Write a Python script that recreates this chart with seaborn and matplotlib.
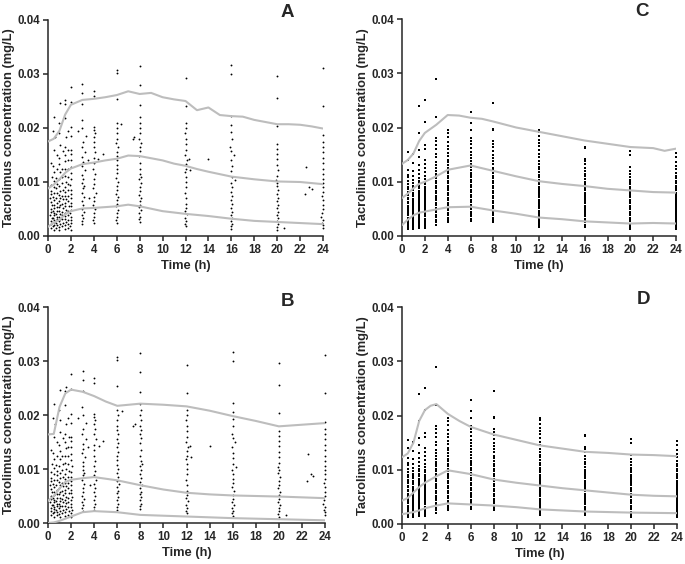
import numpy as np
import pandas as pd
import matplotlib
matplotlib.use("Agg")
import matplotlib.pyplot as plt
import seaborn as sns
from matplotlib.ticker import FormatStrFormatter, MultipleLocator

# ---------------- observed data, panels A and B (time h, conc µg/L) ----------------
ab_025 = [(0.22,1.5),(0.30,2.2),(0.25,2.8),(0.33,3.3),(0.20,3.8),(0.28,4.4),(0.24,5.0),(0.32,5.7),(0.26,6.3),(0.21,7.0),(0.30,7.7),(0.27,8.4),(0.23,9.5),(0.31,11.0),(0.25,13.5)]
ab_05 = [(0.50,1.2),(0.46,1.8),(0.55,2.1),(0.48,2.6),(0.52,3.0),(0.44,3.4),(0.56,3.9),(0.50,4.3),(0.47,4.7),(0.53,5.2),(0.49,5.8),(0.55,6.6),(0.45,7.3),(0.51,8.0),(0.48,9.0),(0.54,10.2),(0.50,11.8),(0.46,13.0),(0.52,16.0),(0.58,18.3),(0.47,19.5),(0.52,22.1)]
ab_075 = [(0.74,1.4),(0.78,2.0),(0.72,2.5),(0.76,3.1),(0.80,3.6),(0.73,4.1),(0.77,4.6),(0.75,5.4),(0.79,6.2),(0.71,7.1),(0.76,7.9),(0.74,8.8),(0.78,9.7),(0.72,10.8),(0.77,12.5),(0.75,15.0)]
ab_1 = [(1.00,1.2),(0.96,1.7),(1.04,2.2),(0.98,2.7),(1.02,3.2),(0.95,3.6),(1.05,4.1),(1.00,4.7),(0.97,5.3),(1.03,5.8),(0.99,6.4),(1.01,7.0),(0.96,7.6),(1.04,8.3),(1.00,9.3),(0.98,10.5),(1.02,11.8),(1.00,13.3),(0.97,14.5),(1.03,16.8),(1.00,19.0),(0.95,21.0),(1.02,24.6)]
ab_125 = [(1.24,1.8),(1.28,2.4),(1.22,3.1),(1.26,3.9),(1.25,4.5),(1.30,5.2),(1.23,6.0),(1.27,6.8),(1.25,7.5),(1.29,8.5),(1.24,9.8),(1.26,11.0),(1.22,12.5),(1.27,15.7)]
ab_15 = [(1.50,1.3),(1.46,2.0),(1.54,2.6),(1.48,3.1),(1.52,3.7),(1.45,4.3),(1.55,4.9),(1.50,5.5),(1.47,6.2),(1.53,6.8),(1.49,7.4),(1.51,8.2),(1.46,9.0),(1.54,10.0),(1.50,11.2),(1.48,12.5),(1.52,13.8),(1.50,15.0),(1.47,16.5),(1.53,18.3),(1.50,21.8),(1.48,24.5),(1.52,25.2)]
ab_175 = [(1.74,1.5),(1.78,2.2),(1.72,3.0),(1.76,3.8),(1.75,4.6),(1.79,5.5),(1.73,6.4),(1.77,7.4),(1.75,8.5),(1.78,9.7),(1.72,11.0),(1.76,12.5),(1.74,14.0),(1.78,16.0),(1.75,19.5)]
ab_2 = [(2.00,1.1),(1.96,1.8),(2.04,2.4),(1.98,3.0),(2.02,3.6),(1.95,4.2),(2.05,4.8),(2.00,5.5),(1.97,6.2),(2.03,7.0),(1.99,7.8),(2.01,8.6),(1.96,9.5),(2.04,10.5),(2.00,11.6),(1.98,12.8),(2.02,14.0),(2.00,15.2),(1.97,16.0),(2.03,18.5),(2.00,20.2),(1.98,24.8),(2.02,27.6)]
ab_3 = [(3.00,2.3),(2.96,2.8),(3.05,3.3),(2.98,3.8),(3.10,4.4),(2.95,5.0),(3.04,5.7),(3.00,6.4),(3.12,7.2),(2.97,8.0),(3.03,8.8),(3.15,9.3),(2.99,9.8),(3.06,10.5),(3.00,11.3),(3.20,12.2),(2.96,13.0),(3.04,13.7),(3.00,14.6),(3.25,15.5),(2.98,16.5),(3.02,17.5),(3.30,18.5),(3.00,20.0),(2.97,21.5),(3.01,24.5),(3.00,26.5),(3.00,28.2),(2.60,19.5),(3.45,14.0),(3.60,7.0)]
ab_4 = [(4.00,2.5),(3.96,3.0),(4.05,3.6),(3.98,4.3),(4.10,5.0),(3.95,5.8),(4.04,6.5),(4.00,7.2),(4.15,8.0),(3.97,8.8),(4.03,9.6),(4.00,10.5),(4.08,11.5),(3.96,12.5),(4.02,13.5),(4.00,14.5),(4.12,15.5),(3.98,16.5),(4.04,17.5),(4.00,18.3),(4.06,19.0),(3.99,19.7),(4.02,20.2),(4.00,26.0),(4.00,26.8),(4.80,15.2),(4.40,14.2)]
ab_6 = [(6.00,2.5),(5.96,3.0),(6.05,3.6),(5.98,4.2),(6.10,4.8),(5.95,5.5),(6.04,6.0),(6.00,6.6),(6.12,7.2),(5.97,7.8),(6.03,8.5),(6.00,9.2),(6.08,10.0),(5.96,10.8),(6.02,11.6),(6.00,12.4),(6.06,13.2),(5.98,14.0),(6.04,14.8),(6.00,15.6),(6.10,16.4),(5.97,17.2),(6.02,18.0),(6.00,19.0),(6.03,20.0),(5.99,21.0),(6.00,25.3),(6.00,30.2),(6.00,30.7),(6.40,20.7)]
ab_8 = [(8.00,2.6),(7.96,3.1),(8.05,3.6),(7.98,4.2),(8.10,4.8),(7.95,5.3),(8.04,5.8),(8.00,6.4),(8.12,7.0),(7.97,7.6),(8.03,8.3),(8.00,9.0),(8.08,9.8),(7.96,10.6),(8.15,11.0),(8.02,11.5),(8.00,12.5),(8.06,13.5),(7.98,14.8),(8.04,15.8),(8.00,16.5),(8.10,17.2),(7.97,18.0),(8.02,19.0),(8.00,20.0),(8.03,21.0),(7.99,22.0),(8.00,24.2),(8.00,27.9),(8.00,31.4),(7.50,18.3),(7.40,18.0)]
ab_12 = [(12.00,1.8),(11.96,2.3),(12.05,2.8),(11.98,3.4),(12.10,4.0),(11.95,4.6),(12.04,5.2),(12.00,6.0),(12.08,7.0),(11.97,8.0),(12.03,9.0),(12.00,10.0),(12.06,11.0),(11.96,11.8),(12.02,12.5),(12.00,13.3),(12.10,14.0),(11.98,15.0),(12.04,16.0),(12.00,17.0),(12.02,18.0),(11.99,19.0),(12.00,20.0),(12.03,21.0),(12.00,24.0),(12.00,29.3),(12.40,12.2),(12.30,14.2),(14.00,14.3)]
ab_16 = [(16.00,1.3),(15.96,1.8),(16.05,2.3),(15.98,2.8),(16.10,3.3),(15.95,3.8),(16.04,4.5),(16.00,5.2),(16.08,6.0),(15.97,6.7),(16.03,7.4),(16.00,8.2),(16.06,9.0),(15.96,9.8),(16.30,10.3),(16.02,11.0),(16.00,12.0),(16.04,13.0),(15.98,14.0),(16.20,15.0),(16.00,15.8),(15.90,16.5),(16.02,18.0),(16.00,19.2),(16.00,20.5),(16.00,22.2),(16.00,30.0),(16.00,31.6)]
ab_20 = [(20.00,1.2),(19.96,1.7),(20.05,2.2),(19.98,2.7),(20.10,3.3),(19.95,3.8),(20.04,4.5),(20.00,5.2),(20.08,5.8),(19.97,6.4),(20.03,7.0),(20.00,7.7),(20.06,8.5),(19.96,9.2),(20.02,9.8),(19.90,10.4),(20.00,11.2),(20.04,12.2),(19.98,13.2),(20.00,14.2),(20.02,15.2),(20.00,16.2),(20.00,17.0),(20.00,20.4),(20.00,25.5),(20.00,29.7),(20.60,1.4)]
ab_22 = [(22.50,12.7),(22.40,7.8),(22.80,9.0),(23.00,8.7)]
ab_24 = [(24.00,1.5),(23.96,2.0),(23.90,2.5),(23.98,3.0),(23.85,3.5),(23.95,4.2),(24.00,5.0),(23.97,5.8),(24.00,6.6),(23.92,7.4),(24.00,8.2),(23.96,9.0),(24.00,9.8),(23.98,10.6),(24.00,11.4),(24.00,12.5),(23.97,13.5),(24.00,14.5),(24.00,15.5),(23.98,16.5),(24.00,17.5),(24.00,18.7),(24.00,24.0),(24.00,31.1)]

# ---------------- observed data, panels C and D (conc µg/L at nominal time) ----------------
cd_times = [0.5, 1, 1.5, 2, 3, 4, 6, 8, 12, 16, 20, 24]
cd_05 = [1.2,1.6,1.9,2.3,2.5,2.9,3.2,3.4,3.8,4.1,4.3,4.7,5.0,5.4,5.6,6.1,6.3,6.8,7.0,7.5,7.9,8.2,8.7,9.0,9.6,10.1,10.8,11.3,12.2,14.0,15.5]
cd_1 = [1.3,1.7,2.0,2.2,2.6,2.8,3.1,3.5,3.7,4.0,4.4,4.6,4.9,5.3,5.5,5.9,6.2,6.6,6.9,7.3,7.7,8.0,8.4,8.9,9.3,9.8,10.4,11.0,12.0,13.5,15.2]
cd_15 = [1.5,1.8,2.2,2.5,2.8,3.0,3.4,3.7,4.1,4.4,4.8,5.1,5.5,5.8,6.1,6.5,6.9,7.2,7.6,8.0,8.3,8.8,9.2,9.7,10.1,10.7,11.4,12.1,13.0,14.5,15.8,19.0,24.0]
cd_2 = [1.5,1.9,2.2,2.6,2.9,3.2,3.6,3.9,4.3,4.6,5.0,5.3,5.7,6.0,6.4,6.8,7.1,7.5,7.9,8.3,8.7,9.1,9.6,10.0,10.5,11.1,11.8,12.6,13.3,14.0,16.0,16.8,21.0,25.0]
cd_3 = [2.0,2.6,3.0,3.5,3.9,4.4,4.8,5.2,5.7,6.1,6.6,7.0,7.4,7.9,8.3,8.8,9.2,9.7,10.1,10.6,11.0,11.5,12.0,12.5,13.1,13.7,14.5,15.2,16.0,16.8,17.5,18.0,22.0,29.0]
cd_4 = [2.5,3.0,3.4,3.9,4.3,4.8,5.2,5.7,6.1,6.6,7.0,7.5,7.9,8.4,8.8,9.3,9.7,10.2,10.6,11.1,11.6,12.0,12.5,13.0,13.6,14.1,14.7,15.3,16.0,16.6,17.3,18.2,19.0,19.5]
cd_6 = [2.7,3.1,3.6,4.0,4.5,4.9,5.4,5.8,6.3,6.7,7.2,7.6,8.1,8.5,9.0,9.4,9.9,10.3,10.8,11.2,11.7,12.2,12.7,13.2,13.8,14.3,14.9,15.5,16.2,16.9,17.6,18.0,19.5,20.8,22.9]
cd_8 = [2.5,2.9,3.4,3.8,4.3,4.7,5.2,5.6,6.1,6.5,7.0,7.4,7.9,8.3,8.8,9.2,9.7,10.1,10.6,11.1,11.6,12.1,12.6,13.2,13.8,14.4,15.0,15.7,16.4,17.0,17.5,19.6,19.8,24.5]
cd_12 = [1.7,2.0,2.4,2.8,3.1,3.5,3.9,4.3,4.7,5.1,5.5,5.9,6.3,6.7,7.1,7.5,7.9,8.3,8.7,9.1,9.6,10.0,10.4,10.9,11.3,11.8,12.3,12.8,13.3,13.9,14.5,15.2,15.9,16.6,17.2,17.7,18.5,19.2,19.5]
cd_16 = [1.7,2.1,2.5,2.8,3.2,3.6,4.0,4.4,4.8,5.2,5.6,6.0,6.4,6.8,7.2,7.6,8.0,8.4,8.8,9.2,9.6,10.0,10.5,11.0,11.5,12.0,12.6,13.2,13.8,14.2,16.2,16.4]
cd_20 = [1.3,1.6,2.0,2.3,2.7,3.0,3.4,3.8,4.1,4.5,4.9,5.2,5.6,6.0,6.3,6.7,7.1,7.5,7.9,8.3,8.7,9.1,9.5,9.9,10.4,10.9,11.5,12.0,12.7,15.0,15.7]
cd_24 = [1.3,1.7,2.0,2.4,2.7,3.1,3.5,3.8,4.2,4.6,4.9,5.3,5.7,6.0,6.4,6.8,7.2,7.6,8.0,8.4,8.8,9.2,9.7,10.1,10.6,11.1,11.7,12.3,12.9,13.6,14.5,15.3]

# ---------------- percentile lines (mg/L) ----------------
a_t = [0,0.5,1,1.5,2,3,4,5,6,7,8,9,10,11,12,13,14,15,16,17,18,19,20,21,22,23,24]
a_hi = [0.0175,0.0180,0.0195,0.0225,0.0243,0.0252,0.0254,0.0257,0.0261,0.0268,0.0263,0.0265,0.0257,0.0253,0.0250,0.0233,0.0238,0.0224,0.0222,0.0221,0.0215,0.0211,0.0207,0.0207,0.0206,0.0203,0.0199]
a_mid_t = [0,0.5,1,1.5,2,3,4,5,6,7,8,9,10,11,12,13,14,16,18,20,22,24]
a_mid = [0.0088,0.0095,0.0105,0.0117,0.0125,0.0133,0.0136,0.0140,0.0143,0.0149,0.0148,0.0144,0.0140,0.0134,0.0130,0.0124,0.0119,0.0110,0.0105,0.0101,0.0100,0.0096]
a_lo_t = [0,0.5,1,1.5,2,3,4,6,7,8,10,12,14,16,18,20,22,24]
a_lo = [0.0017,0.0025,0.0030,0.0040,0.0046,0.0051,0.0052,0.0055,0.0058,0.0055,0.0046,0.0041,0.0037,0.0032,0.0028,0.0026,0.0024,0.0022]

b_hi_t = [0,0.5,1,1.5,2,3,4,5,6,8,10,12,14,16,18,20,22,24]
b_hi = [0.0164,0.0165,0.0215,0.0240,0.0247,0.0243,0.0235,0.0225,0.0217,0.0221,0.0219,0.0216,0.0208,0.0198,0.0189,0.0179,0.0182,0.0185]
b_mid_t = [0,0.5,1,1.5,2,3,4,6,8,10,12,14,16,20,24]
b_mid = [0.0041,0.0050,0.0064,0.0076,0.0080,0.0083,0.0085,0.0079,0.0070,0.0062,0.0056,0.0053,0.0051,0.0049,0.0046]
b_lo_t = [0,0.5,1,1.5,2,3,4,6,8,12,16,20,24]
b_lo = [0.0000,0.0001,0.0004,0.0008,0.0012,0.0020,0.0022,0.0020,0.0015,0.0012,0.0009,0.0007,0.0005]

c_hi_t = [0,0.5,1,1.5,2,3,4,5,6,7,8,10,12,14,16,18,20,22,23,24]
c_hi = [0.0133,0.0140,0.0152,0.0175,0.0190,0.0205,0.0223,0.0222,0.0218,0.0216,0.0211,0.0200,0.0192,0.0184,0.0176,0.0170,0.0164,0.0162,0.0157,0.0161]
c_mid_t = [0,0.5,1,1.5,2,3,4,6,8,10,12,14,16,18,20,22,24]
c_mid = [0.0070,0.0078,0.0088,0.0096,0.0100,0.0110,0.0122,0.0130,0.0120,0.0110,0.0101,0.0096,0.0092,0.0087,0.0084,0.0081,0.0080]
c_lo_t = [0,0.5,1,1.5,2,3,4,6,8,10,12,14,16,18,20,22,24]
c_lo = [0.0020,0.0030,0.0038,0.0043,0.0045,0.0049,0.0053,0.0054,0.0047,0.0041,0.0034,0.0031,0.0027,0.0025,0.0023,0.0024,0.0023]

d_hi_t = [0,0.5,1,1.5,2,2.5,3,4,5,6,8,10,12,14,16,18,20,22,24]
d_hi = [0.0123,0.0130,0.0150,0.0190,0.0210,0.0218,0.0221,0.0203,0.0190,0.0179,0.0165,0.0155,0.0145,0.0139,0.0133,0.0131,0.0128,0.0127,0.0125]
d_mid_t = [0,0.5,1,1.5,2,3,4,6,8,10,12,14,16,18,20,22,24]
d_mid = [0.0043,0.0048,0.0058,0.0068,0.0076,0.0088,0.0099,0.0092,0.0082,0.0076,0.0071,0.0066,0.0062,0.0058,0.0054,0.0052,0.0051]
d_lo_t = [0,0.5,1,1.5,2,3,4,6,8,10,12,16,20,24]
d_lo = [0.0018,0.0020,0.0022,0.0025,0.0029,0.0034,0.0038,0.0036,0.0034,0.0031,0.0027,0.0023,0.0021,0.0020]

x_ticks = [0,2,4,6,8,10,12,14,16,18,20,22,24]
y_ticks = [0.00,0.01,0.02,0.03,0.04]
x_label = "Time (h)"
y_label = "Tacrolimus concentration (mg/L)"

# ---------------- build tables ----------------
ab_cols = [ab_025, ab_05, ab_075, ab_1, ab_125, ab_15, ab_175, ab_2, ab_3, ab_4,
           ab_6, ab_8, ab_12, ab_16, ab_20, ab_22, ab_24]
ab_pts = [p for col in ab_cols for p in col]
obs_ab = pd.DataFrame(ab_pts, columns=["time", "conc_ug"])
obs_ab["conc"] = obs_ab["conc_ug"] / 1000.0

cd_cols = [cd_05, cd_1, cd_15, cd_2, cd_3, cd_4, cd_6, cd_8, cd_12, cd_16, cd_20, cd_24]
rows = []
for t, col in zip(cd_times, cd_cols):
    for c in col:
        rows.append((t, c))
obs_cd = pd.DataFrame(rows, columns=["time", "conc_ug"])
obs_cd["conc"] = obs_cd["conc_ug"] / 1000.0

def line_df(t, v):
    return pd.DataFrame({"time": t, "conc": v})

lines = {
    "A": [line_df(a_t, a_hi), line_df(a_mid_t, a_mid), line_df(a_lo_t, a_lo)],
    "B": [line_df(b_hi_t, b_hi), line_df(b_mid_t, b_mid), line_df(b_lo_t, b_lo)],
    "C": [line_df(c_hi_t, c_hi), line_df(c_mid_t, c_mid), line_df(c_lo_t, c_lo)],
    "D": [line_df(d_hi_t, d_hi), line_df(d_mid_t, d_mid), line_df(d_lo_t, d_lo)],
}
obs = {"A": obs_ab, "B": obs_ab, "C": obs_cd, "D": obs_cd}

# ---------------- draw ----------------
sns.set_style("ticks")
plt.rcParams['font.family'] = ['Liberation Sans', 'DejaVu Sans']
plt.rcParams['font.weight'] = 'bold'
plt.rcParams['axes.labelweight'] = 'bold'

W, H = 685, 564
fig = plt.figure(figsize=(W / 100, H / 100), dpi=100)

def px_axes(l, t, r, b):
    return fig.add_axes([l / W, 1 - b / H, (r - l) / W, (b - t) / H])

axes = {
    "A": px_axes(48, 20, 323, 236),
    "C": px_axes(402, 19, 676, 236),
    "B": px_axes(48, 307, 325, 523),
    "D": px_axes(402, 307, 677, 524),
}
letter_pos = {"A": (287, 12.5), "C": (642, 12), "B": (287, 301), "D": (643, 300)}
line_color = "#bdbdbd"

for key, ax in axes.items():
    for ldf in lines[key]:
        sns.lineplot(data=ldf, x="time", y="conc", ax=ax, color=line_color,
                     linewidth=1.5, estimator=None, sort=False, zorder=3)
    d = obs[key]
    if key in ("A", "B"):
        sns.scatterplot(data=d, x="time", y="conc", ax=ax, color="black",
                        s=1.8, marker="o", linewidth=0, zorder=2, clip_on=False)
    else:
        sns.scatterplot(data=d, x="time", y="conc", ax=ax, color="black",
                        s=1.4, marker="s", linewidth=0, zorder=2, clip_on=False)
    ax.set_xlim(0, 24)
    ax.set_ylim(0, 0.04)
    ax.set_xticks(x_ticks)
    ax.set_yticks(y_ticks)
    ax.yaxis.set_major_formatter(FormatStrFormatter('%.2f'))
    ax.tick_params(direction="out", length=3.5, width=1.1, labelsize=8.3, pad=2)
    for lab in ax.get_xticklabels() + ax.get_yticklabels():
        lab.set_fontweight("bold")
    for side in ("top", "right"):
        ax.spines[side].set_visible(False)
    for side in ("left", "bottom"):
        ax.spines[side].set_linewidth(1.1)
    ax.set_xlabel(x_label, fontsize=9.3, fontweight="bold", labelpad=3)
    ax.set_ylabel(y_label, fontsize=9.3, fontweight="bold", labelpad=2)
    lx, ly = letter_pos[key]
    fig.text(lx / W, 1 - ly / H, key, fontsize=13.5, fontweight="bold",
             ha="center", va="center")

fig.savefig("out.png", dpi=100)
